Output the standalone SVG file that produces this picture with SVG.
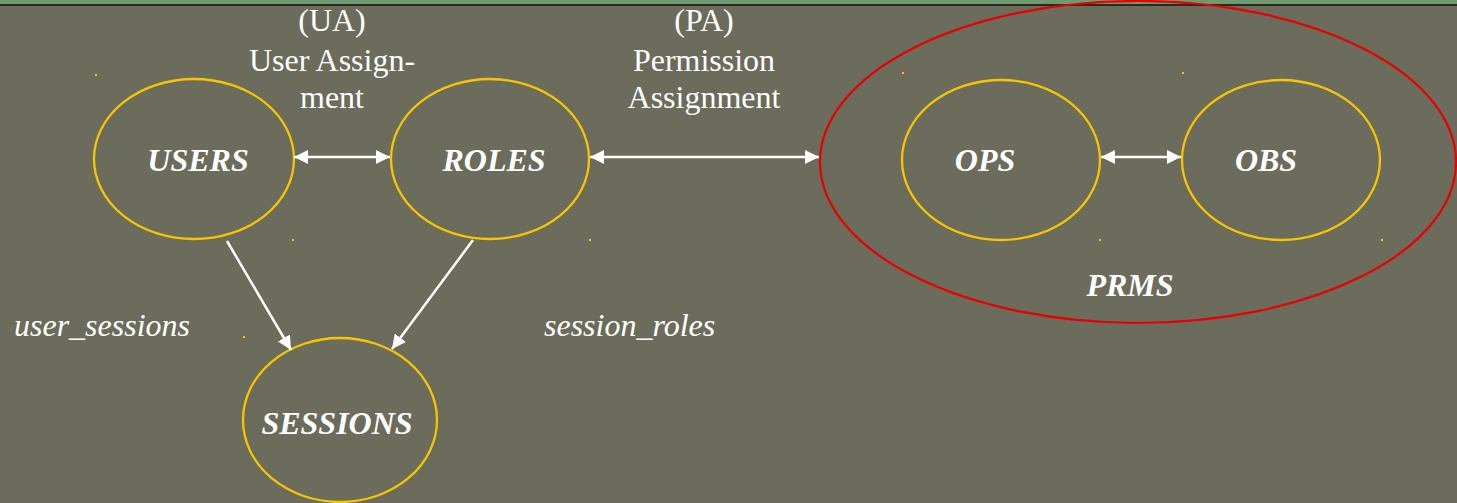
<svg xmlns="http://www.w3.org/2000/svg" width="1457" height="503" viewBox="0 0 1457 503">
<defs>
<marker id="ah" viewBox="0 0 10 10" refX="10" refY="5" markerWidth="14" markerHeight="14" markerUnits="userSpaceOnUse" orient="auto-start-reverse">
<path d="M0,0 L10,5 L0,10 z" fill="#ffffff"/>
</marker>
<style>
.node{fill:none;stroke:#f9c400;stroke-width:2.3}
.prms{fill:none;stroke:#ea0000;stroke-width:2.2}
.lbl{font-family:"Liberation Serif","Times New Roman",serif;font-weight:bold;font-style:italic;font-size:32px;fill:#ffffff;text-anchor:middle}
.cap{font-family:"Liberation Serif","Times New Roman",serif;font-size:32px;fill:#ffffff;text-anchor:middle}
.rel{font-family:"Liberation Serif","Times New Roman",serif;font-style:italic;font-size:32px;fill:#ffffff}
.conn{stroke:#ffffff;stroke-width:2.5;fill:none}
.dot{fill:#f9c400}
</style>
</defs>
<rect width="1457" height="503" fill="#6b6c5c"/>
<rect width="1457" height="4" fill="#6f9a70"/>
<rect y="4" width="1457" height="2" fill="#2a2a22"/>
<g id="dots">
<rect class="dot" x="95" y="74" width="2" height="2"/>
<rect class="dot" x="292" y="239" width="2" height="2"/>
<rect class="dot" x="589" y="239" width="2" height="2"/>
<rect class="dot" x="243" y="336" width="2" height="2"/>
<rect class="dot" x="902" y="72" width="2" height="2"/>
<rect class="dot" x="1182" y="72" width="2" height="2"/>
<rect class="dot" x="1099" y="239" width="2" height="2"/>
<rect class="dot" x="1381" y="239" width="2" height="2"/>
</g>
<g id="captions">
<text class="cap" x="332" y="31">(UA)</text>
<text class="cap" x="332" y="71">User Assign-</text>
<text class="cap" x="332" y="108">ment</text>
<text class="cap" x="704" y="31">(PA)</text>
<text class="cap" x="704" y="71">Permission</text>
<text class="cap" x="704" y="108">Assignment</text>
<text class="rel" x="14" y="336">user_sessions</text>
<text class="rel" x="544" y="336">session_roles</text>
</g>
<g id="prms">
<ellipse class="prms" cx="1138" cy="162" rx="318" ry="161"/>
<text class="lbl" x="1130" y="296">PRMS</text>
</g>
<g id="users">
<ellipse class="node" cx="194" cy="159" rx="100" ry="80"/>
<text class="lbl" x="198" y="171">USERS</text>
</g>
<g id="roles">
<ellipse class="node" cx="490" cy="159" rx="99" ry="80"/>
<text class="lbl" x="494" y="171">ROLES</text>
</g>
<g id="sessions">
<ellipse class="node" cx="340" cy="420" rx="97" ry="82"/>
<text class="lbl" x="337" y="434">SESSIONS</text>
</g>
<g id="ops">
<ellipse class="node" cx="1001" cy="160" rx="99" ry="80"/>
<text class="lbl" x="985" y="171">OPS</text>
</g>
<g id="obs">
<ellipse class="node" cx="1281" cy="160" rx="99" ry="80"/>
<text class="lbl" x="1266" y="171">OBS</text>
</g>
<g id="connectors">
<line class="conn" x1="294" y1="157" x2="390" y2="157" marker-start="url(#ah)" marker-end="url(#ah)"/>
<line class="conn" x1="590" y1="157" x2="819" y2="157" marker-start="url(#ah)" marker-end="url(#ah)"/>
<line class="conn" x1="1101" y1="157" x2="1181" y2="157" marker-start="url(#ah)" marker-end="url(#ah)"/>
<line class="conn" x1="227" y1="241" x2="291" y2="350" marker-end="url(#ah)"/>
<line class="conn" x1="473" y1="240" x2="392" y2="349" marker-end="url(#ah)"/>
</g>
</svg>
